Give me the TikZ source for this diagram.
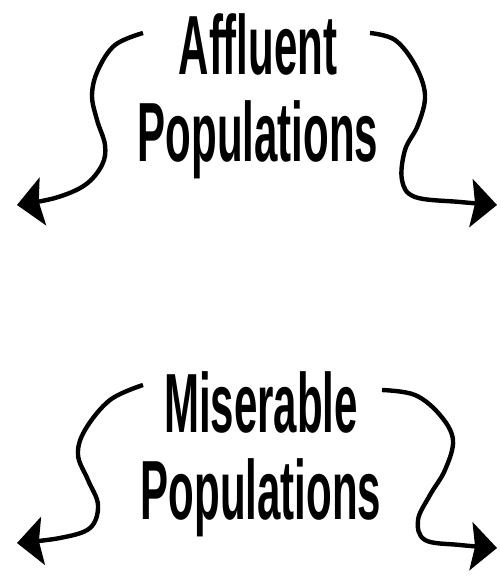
\documentclass[tikz,border=0pt]{standalone}
\usepackage{fontspec}
\newfontfamily\condfont[FakeStretch=0.5, Ligatures=NoCommon]{Liberation Sans}
\usetikzlibrary{arrows.meta}

\tikzset{
  poplabel/.style={font=\condfont\bfseries\fontsize{42}{43.5}\selectfont, align=center, anchor=base, inner sep=0pt},
  wavyarrow/.style={line width=2.2pt, -{Stealth[length=13pt, width=24pt, inset=2pt]}}
}

\begin{document}
\begin{tikzpicture}[x=0.5pt, y=0.5pt]
\useasboundingbox (0,0) rectangle (500,577);

\node[poplabel] (affluent) at (258,415) {Affluent\\Populations};
\node[poplabel] (miserable) at (261,57) {Miserable\\Populations};

\coordinate (aff-l) at (143,544);
\coordinate (aff-r) at (370,544);
\coordinate (mis-l) at (143,192);
\coordinate (mis-r) at (382,187);

\draw[wavyarrow] plot[smooth, tension=0.6] coordinates {(aff-l) (115,532) (98,507) (92,482) (97,457) (105,432) (102,412) (85,392) (55,379) (17,372)};
\draw[wavyarrow] plot[smooth, tension=0.6] coordinates {(aff-r) (395,537) (415,512) (425,482) (418,452) (405,427) (402,397) (415,380) (460,375) (497,372)};

\draw[wavyarrow] plot[smooth, tension=0.6] coordinates {(mis-l) (110,177) (85,147) (78,122) (88,97) (98,72) (90,49) (60,39) (17,34)};
\draw[wavyarrow] plot[smooth, tension=0.6] coordinates {(mis-r) (415,182) (440,162) (453,137) (445,107) (430,82) (418,57) (425,37) (460,32) (497,29)};

\end{tikzpicture}
\end{document}
